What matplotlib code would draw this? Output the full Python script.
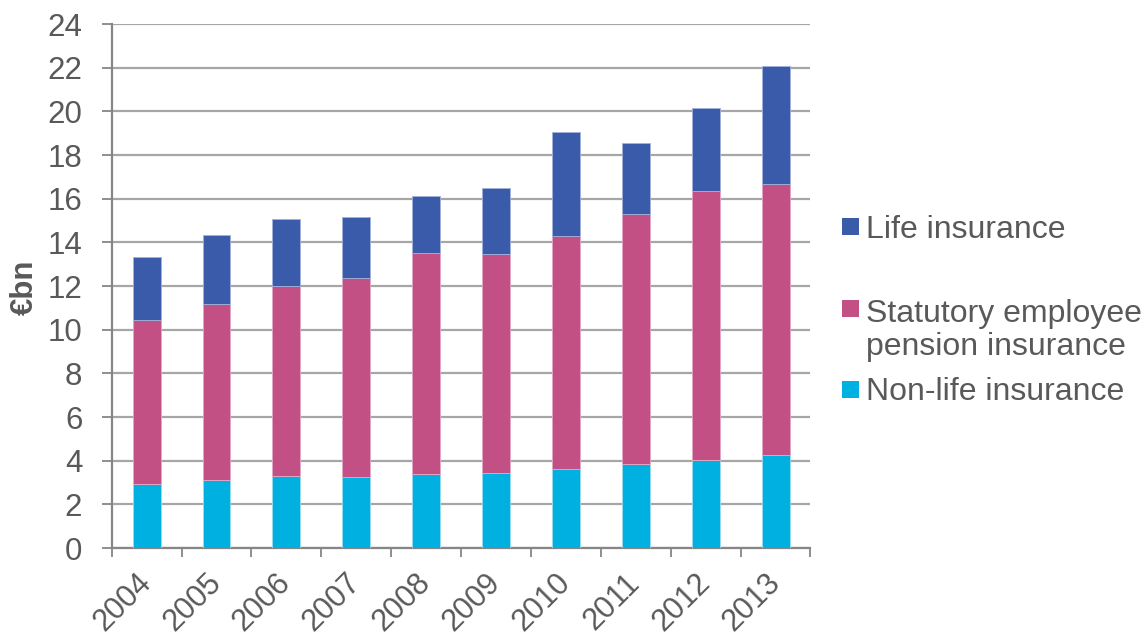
import matplotlib
matplotlib.use("Agg")
import matplotlib.pyplot as plt
from matplotlib.patches import Rectangle
import numpy as np

years = ["2004", "2005", "2006", "2007", "2008", "2009", "2010", "2011", "2012", "2013"]
non_life = [2.95, 3.13, 3.28, 3.27, 3.39, 3.45, 3.63, 3.86, 4.04, 4.27]
statutory_top = [10.45, 11.18, 12.0, 12.37, 13.5, 13.45, 14.29, 15.3, 16.35, 16.68]
total = [13.31, 14.35, 15.05, 15.17, 16.1, 16.5, 19.06, 18.56, 20.17, 22.07]

statutory = [s - n for s, n in zip(statutory_top, non_life)]
life = [t - s for t, s in zip(total, statutory_top)]

labels = ["Life insurance", "Statutory employee\npension insurance", "Non-life insurance"]
c_life = "#3A5BA9"
c_stat = "#C25085"
c_non = "#00B0E0"
text_c = "#595959"
axis_c = "#868686"
grid_c = "#A6A6A6"

plt.rcParams['font.family'] = ['Liberation Sans', 'DejaVu Sans']

fig = plt.figure(figsize=(11.48, 6.39), dpi=100)
ax = fig.add_axes([111.7/1148, 1 - 548/639, (810.5 - 111.7)/1148, (548 - 24)/639])

x = np.arange(len(years))
w = 0.4
ax.bar(x, non_life, w, color=c_non, edgecolor="#9ADCF0", linewidth=0.6, zorder=3)
ax.bar(x, statutory, w, bottom=non_life, color=c_stat, edgecolor="#E3A9C4", linewidth=0.6, zorder=3)
ax.bar(x, life, w, bottom=statutory_top, color=c_life, edgecolor="#A3B2DC", linewidth=0.6, zorder=3)

ax.set_xlim(-0.5, len(years) - 0.5)
ax.set_ylim(0, 24)
ax.set_yticks(np.arange(0, 25, 2))
ax.yaxis.grid(True, color=grid_c, linewidth=1.6, zorder=0)
ax.set_axisbelow(True)

ax.set_xticks(np.arange(-0.5, len(years), 1.0))
ax.set_xticklabels([])
ax.set_xticks(x, minor=True)
ax.set_xticklabels(years, minor=True, rotation=45, ha="right", va="center",
                   rotation_mode="anchor", fontsize=22, color=text_c)
ax.tick_params(axis="x", which="minor", length=0, pad=22)
ax.tick_params(axis="x", which="major", length=6.5, width=1.3, color=axis_c, direction="out")
ax.tick_params(axis="y", length=7.2, width=1.3, color=axis_c, labelsize=22.5, labelcolor=text_c, pad=14)

for s in ["top", "right"]:
    ax.spines[s].set_visible(False)
for s in ["left", "bottom"]:
    ax.spines[s].set_color(axis_c)
    ax.spines[s].set_linewidth(1.6)

fig.text(25/1148, 1 - 287/639, "€bn", rotation=90, ha="center", va="center",
         fontsize=22.5, fontweight="bold", color=text_c)

# legend
entries = [(c_life, 218, 229.5, labels[0]),
           (c_stat, 300, 330.5, labels[1]),
           (c_non, 381, 392, labels[2])]
for col, ytop, ytext, lab in entries:
    fig.patches.append(Rectangle((842/1148, 1 - (ytop + 17)/639), 17/1148, 17/639,
                                 transform=fig.transFigure, facecolor=col, edgecolor="none"))
    fig.text(866/1148, 1 - ytext/639, lab, ha="left", va="center", fontsize=23,
             color=text_c, linespacing=1.15)

fig.savefig("out.png", dpi=100)
